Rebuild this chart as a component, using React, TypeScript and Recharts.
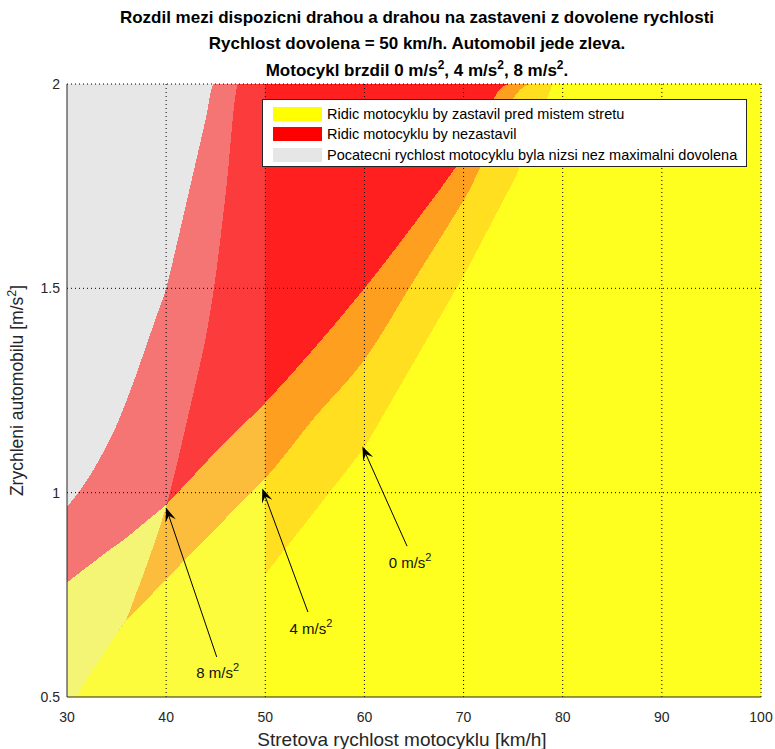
import React from 'react';
import {
  ComposedChart,
  Area,
  XAxis,
  YAxis,
  ReferenceLine,
  ReferenceDot,
  Legend,
  Label,
} from 'recharts';

const FONT = '"Liberation Sans", Arial, Helvetica, sans-serif';
const INK = '#262626';

const speedTicks = [30, 40, 50, 60, 70, 80, 90, 100];
const accelTicks = [0.5, 1, 1.5, 2];
const speedGrid = [40, 50, 60, 70, 80, 90, 100];
const accelGrid = [1, 1.5, 2];

// Motorcycle braking 0 m/s^2: street speed [km/h], edge of the "slower than allowed"
// zone (gray above it) and edge of the "would not stop" zone (red above it).
const speed0 = [30, 50, 50, 55, 60, 65, 70, 75.2, 79, 100];
const grayEdge0 = [0.5, 0.5, 2, 2, 2, 2, 2, 2, 2, 2];
const redEdge0 = [0.5, 0.5, 0.8, 0.955, 1.11, 1.32, 1.53, 1.77, 2, 2];

// Motorcycle braking 4 m/s^2
const speed4 = [30, 30.7, 32, 33, 34, 35, 35.9, 37, 38, 39, 40, 41, 42, 43, 44, 45, 46, 47.3, 50, 55, 60, 65, 70, 76.8, 100];
const grayEdge4 = [
  0.5, 0.5, 0.545, 0.58, 0.617, 0.655, 0.686, 0.755, 0.82, 0.89, 0.966, 1.06, 1.165, 1.27, 1.38, 1.53, 1.73, 2,
  2, 2, 2, 2, 2, 2, 2,
];
const redEdge4 = [
  0.5, 0.5, 0.545, 0.58, 0.617, 0.655, 0.686, 0.712, 0.737, 0.763, 0.789, 0.813, 0.838, 0.862, 0.887, 0.912,
  0.937, 0.97, 1.035, 1.185, 1.325, 1.52, 1.715, 2, 2,
];

// Motorcycle braking 8 m/s^2
const speed8 = [30, 31, 32, 33, 34, 35, 36, 37, 38, 39, 40, 41, 42, 43, 44, 44.8, 50, 55, 60, 65, 70, 74.6, 100];
const grayEdge8 = [
  0.966, 0.995, 1.03, 1.07, 1.115, 1.165, 1.225, 1.29, 1.36, 1.43, 1.5, 1.6, 1.705, 1.81, 1.915, 2, 2, 2, 2, 2, 2,
  2, 2,
];
const redEdge8 = [
  0.78, 0.799, 0.818, 0.836, 0.855, 0.872, 0.89, 0.91, 0.93, 0.95, 0.97, 0.996, 1.022, 1.048, 1.074, 1.095, 1.22,
  1.355, 1.5, 1.657, 1.824, 2, 2,
];

// Arrow annotations: label, arrow tip, arrow tail, text anchor
const arrowLabels = ['8', '4', '0'];
const arrowTips = [
  { x: 40.0, y: 0.963 },
  { x: 49.7, y: 1.01 },
  { x: 59.8, y: 1.113 },
];
const arrowTails = [
  { x: 45.1, y: 0.598 },
  { x: 54.3, y: 0.708 },
  { x: 64.3, y: 0.869 },
];
const arrowTexts = [
  { x: 45.2, y: 0.558 },
  { x: 54.6, y: 0.666 },
  { x: 64.6, y: 0.828 },
];

const legendLabels = [
  'Ridic motocyklu by zastavil pred mistem stretu',
  'Ridic motocyklu by nezastavil',
  'Pocatecni rychlost motocyklu byla nizsi nez maximalni dovolena',
];
const legendColors = ['#FFFF00', '#FF0000', '#E6E6E6'];

const Y_MIN = 0.5;
const Y_MAX = 2;

type Band = { x: number; yellow: number[]; red: number[]; gray: number[] };

const buildBands = (xs: number[], gray: number[], red: number[]): Band[] =>
  xs.map((x, i) => {
    const top = Math.min(red[i], gray[i]);
    return { x, yellow: [Y_MIN, top], red: [top, gray[i]], gray: [gray[i], Y_MAX] };
  });

const layers = [
  { bands: buildBands(speed0, grayEdge0, redEdge0), curve: 'linear' },
  { bands: buildBands(speed4, grayEdge4, redEdge4), curve: 'monotoneX' },
  { bands: buildBands(speed8, grayEdge8, redEdge8), curve: 'monotoneX' },
];

const layerFills: { key: 'yellow' | 'red' | 'gray'; color: string }[] = [
  { key: 'yellow', color: '#FFFF00' },
  { key: 'red', color: '#FF0000' },
  { key: 'gray', color: '#E3E3E3' },
];

const ArrowShape = (props: any) => {
  const { x1, y1, x2, y2 } = props;
  if ([x1, y1, x2, y2].some((v) => typeof v !== 'number' || isNaN(v))) return null;
  const dx = x2 - x1;
  const dy = y2 - y1;
  const len = Math.sqrt(dx * dx + dy * dy) || 1;
  const ux = dx / len;
  const uy = dy / len;
  const nx = -uy;
  const ny = ux;
  const head = 14;
  const half = 5.5;
  const notch = 8.5;
  const pts = [
    [x2, y2],
    [x2 - head * ux + half * nx, y2 - head * uy + half * ny],
    [x2 - notch * ux, y2 - notch * uy],
    [x2 - head * ux - half * nx, y2 - head * uy - half * ny],
  ]
    .map((p) => p.join(','))
    .join(' ');
  return (
    <g>
      <line x1={x1} y1={y1} x2={x2 - notch * ux} y2={y2 - notch * uy} stroke="#000" strokeWidth={1} />
      <polygon points={pts} fill="#000" />
    </g>
  );
};

const makeArrowText = (label: string) => (props: any) => {
  const { cx, cy } = props;
  if (typeof cx !== 'number' || typeof cy !== 'number') return null;
  return (
    <text x={cx} y={cy + 5} textAnchor="middle" fontFamily={FONT} fontSize={15} fill="#111">
      {label} m/s
      <tspan dy={-7} fontSize={11}>
        2
      </tspan>
    </text>
  );
};

const LegendBox = () => (
  <div
    style={{
      width: 485,
      height: 68,
      boxSizing: 'border-box',
      border: `1px solid ${INK}`,
      background: '#fff',
      position: 'relative',
      fontFamily: FONT,
      fontSize: 14.5,
      color: '#000',
    }}
  >
    {legendLabels.map((label, i) => (
      <div
        key={label}
        style={{
          position: 'absolute',
          left: 10,
          top: 7 + i * 20.3,
          height: 14,
          display: 'flex',
          alignItems: 'center',
          whiteSpace: 'nowrap',
        }}
      >
        <span style={{ display: 'inline-block', width: 49, height: 14, background: legendColors[i] }} />
        <span style={{ marginLeft: 5 }}>{label}</span>
      </div>
    ))}
  </div>
);

const XTitle = () => (
  <text x={402} y={746} textAnchor="middle" fontFamily={FONT} fontSize={19} fill={INK}>
    Stretova rychlost motocyklu [km/h]
  </text>
);

const YTitle = (props: any) => {
  const vb = props.viewBox || {};
  const cy = (vb.y ?? 84) + (vb.height ?? 613) / 2;
  return (
    <text
      x={0}
      y={0}
      transform={`translate(23, ${cy}) rotate(-90)`}
      textAnchor="middle"
      fontFamily={FONT}
      fontSize={17.5}
      fill={INK}
    >
      Zrychleni automobilu [m/s
      <tspan dy={-7} fontSize={12.5}>
        2
      </tspan>
      <tspan dy={7}>]</tspan>
    </text>
  );
};

export default function App() {
  return (
    <div style={{ position: 'absolute', left: 0, top: 0, width: 775, height: 749, background: '#fff' }}>
      <style>{`.recharts-area-area{shape-rendering:crispEdges}`}</style>
      <div
        style={{
          position: 'absolute',
          left: 67,
          top: 5,
          width: 700,
          textAlign: 'center',
          fontFamily: FONT,
          fontWeight: 'bold',
          fontSize: 17,
          lineHeight: '26px',
          color: '#000',
          zIndex: 2,
        }}
      >
        <div>Rozdil mezi dispozicni drahou a drahou na zastaveni z dovolene rychlosti</div>
        <div>Rychlost dovolena = 50 km/h. Automobil jede zleva.</div>
        <div style={{ lineHeight: '28px' }}>
          Motocykl brzdil 0 m/s<sup style={{ fontSize: 12, lineHeight: 0 }}>2</sup>, 4 m/s
          <sup style={{ fontSize: 12, lineHeight: 0 }}>2</sup>, 8 m/s
          <sup style={{ fontSize: 12, lineHeight: 0 }}>2</sup>.
        </div>
      </div>
      <ComposedChart width={775} height={749} margin={{ top: 84, right: 14, bottom: 22, left: 27 }}>
        {layers.map((layer, li) =>
          layerFills.map((f) => (
            <Area
              key={`${li}-${f.key}`}
              data={layer.bands}
              dataKey={f.key}
              type={layer.curve as any}
              stroke="none"
              fill={f.color}
              fillOpacity={0.5}
              dot={false}
              activeDot={false}
              isAnimationActive={false}
            />
          )),
        )}
        <XAxis
          dataKey="x"
          type="number"
          domain={[30, 100]}
          ticks={speedTicks}
          allowDataOverflow
          height={30}
          tickLine={false}
          tickSize={6}
          tickMargin={9}
          axisLine={{ stroke: INK }}
          tick={{ fill: INK, fontSize: 14, fontFamily: FONT }}
        >
          <Label content={<XTitle />} />
        </XAxis>
        <YAxis
          type="number"
          domain={[Y_MIN, Y_MAX]}
          ticks={accelTicks}
          allowDataOverflow
          width={40}
          tickLine={false}
          tickSize={6}
          tickMargin={1}
          axisLine={{ stroke: INK }}
          tick={{ fill: INK, fontSize: 14, fontFamily: FONT }}
        >
          <Label content={<YTitle />} />
        </YAxis>
        {speedGrid.map((v) => (
          <ReferenceLine key={`gx${v}`} x={v} stroke="#000" strokeDasharray="1 3" strokeWidth={1} />
        ))}
        {accelGrid.map((v) => (
          <ReferenceLine key={`gy${v}`} y={v} stroke="#000" strokeDasharray="1 3" strokeWidth={1} />
        ))}
        {arrowLabels.map((lab, i) => (
          <ReferenceLine
            key={`arrow${lab}`}
            segment={[arrowTails[i], arrowTips[i]]}
            shape={ArrowShape}
            ifOverflow="visible"
          />
        ))}
        {arrowLabels.map((lab, i) => (
          <ReferenceDot
            key={`txt${lab}`}
            x={arrowTexts[i].x}
            y={arrowTexts[i].y}
            r={0}
            shape={makeArrowText(lab)}
            ifOverflow="visible"
          />
        ))}
        <Legend
          content={<LegendBox />}
          layout="horizontal"
          verticalAlign="middle"
          align="center"
          wrapperStyle={{ position: 'absolute', left: 262, top: 99, width: 485, height: 68 }}
        />
      </ComposedChart>
    </div>
  );
}
